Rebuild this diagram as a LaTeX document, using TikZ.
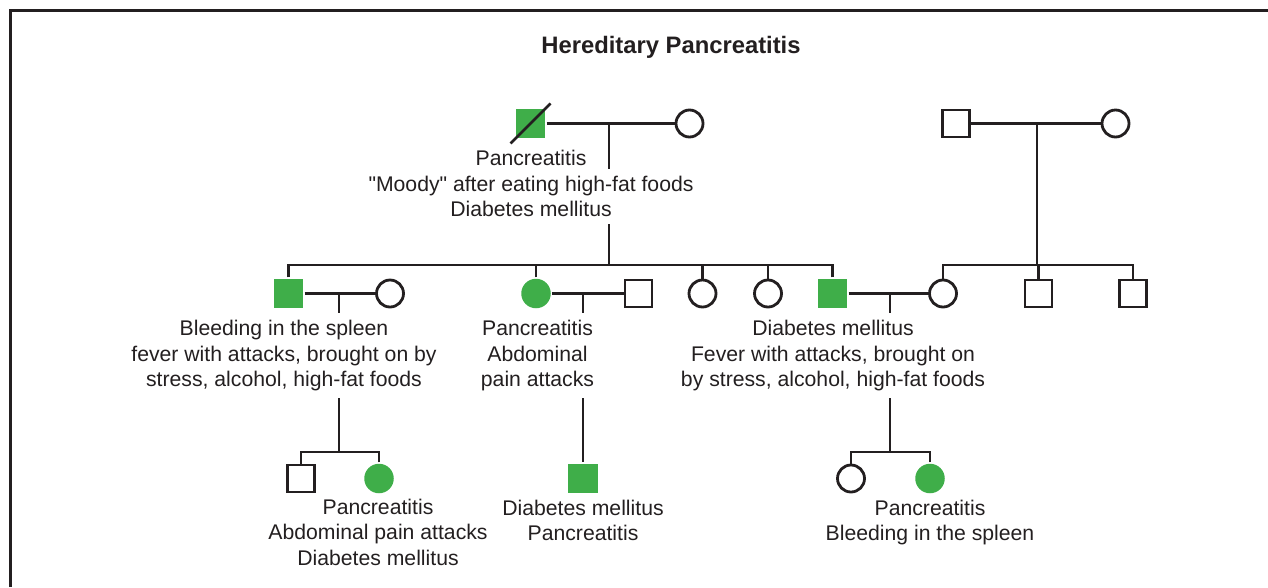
\documentclass[tikz,border=0pt]{standalone}
\usepackage{fontspec}
\setmainfont{Liberation Sans}
\newfontfamily\lsans{Liberation Sans}
\usetikzlibrary{backgrounds}
\definecolor{pgreen}{RGB}{63,174,73}
\definecolor{pline}{RGB}{35,31,32}
\begin{document}
\begin{tikzpicture}[x=1pt,y=-1pt,line width=2.8pt,
  male/.style={rectangle,draw=pline,line width=2.8pt,minimum size=27pt,inner sep=0pt,fill=white},
  female/.style={circle,draw=pline,line width=2.8pt,minimum size=27pt,inner sep=0pt,fill=white},
  amale/.style={rectangle,fill=pgreen,minimum size=29.5pt,inner sep=0pt},
  afemale/.style={circle,fill=pgreen,minimum size=29.5pt,inner sep=0pt},
  lbl/.style={font=\lsans\fontsize{21.2}{25.5}\selectfont,align=center,anchor=base,inner sep=0pt,text=pline},
  lblw/.style={lbl,fill=white,inner xsep=2pt,inner ysep=7pt},
  link/.style={draw=pline,line width=2.8pt}]
\useasboundingbox (0,0) rectangle (1268,587);
\draw[pline,line width=3pt] (10.5,587) -- (10.5,10.5) -- (1268,10.5);

\node[font=\lsans\bfseries\fontsize{23.8}{28}\selectfont,anchor=base,text=pline] (title) at (671,53) {Hereditary Pancreatitis};

% coordinates
\coordinate (m1) at (609,123.5);
\coordinate (s1) at (609,265);
\coordinate (m2) at (1037,123.5);
\coordinate (s2) at (1037,265);
\coordinate (mA) at (339,293.5);
\coordinate (sA) at (339,452);
\coordinate (mB) at (583,293.5);
\coordinate (mE) at (890,293.5);
\coordinate (sE) at (890,452);

% generation I
\node[amale] (gf) at (530.5,123.5) {};
\node[female] (gm) at (689.5,123.5) {};
\node[male] (gf2) at (956,123.5) {};
\node[female] (gm2) at (1115.5,123.5) {};

% generation II
\node[amale] (A) at (288.5,293.5) {};
\node[female] (Asp) at (390,293.5) {};
\node[afemale] (B) at (536,293.5) {};
\node[male] (Bsp) at (638.5,293.5) {};
\node[female] (C) at (702.5,293.5) {};
\node[female] (D) at (768,293.5) {};
\node[amale] (E) at (832.5,293.5) {};
\node[female] (F) at (943,293.5) {};
\node[male] (G) at (1038.5,293.5) {};
\node[male] (H) at (1133,293.5) {};

% generation III
\node[male] (I) at (301,478.5) {};
\node[afemale] (J) at (379,478.5) {};
\node[amale] (K) at (583,478.5) {};
\node[female] (L) at (851,478.5) {};
\node[afemale] (M) at (930,478.5) {};

% connectors
\begin{scope}[on background layer]
\draw[link] (gf) -- (gm);
\draw[link] (gf2) -- (gm2);
\draw[link] (m1) -- (s1);
\draw[link] (m2) -- (s2);
\draw[link] (A.north) |- (s1);
\draw[link] (E.north) |- (s1);
\draw[link] (B.north) -- (B.north |- s1);
\draw[link] (C.north) -- (C.north |- s1);
\draw[link] (D.north) -- (D.north |- s1);
\draw[link] (F.north) |- (s2);
\draw[link] (H.north) |- (s2);
\draw[link] (G.north) -- (G.north |- s2);
\draw[link] (A) -- (Asp);
\draw[link] (B) -- (Bsp);
\draw[link] (E) -- (F);
\draw[link] (mA) -- (sA);
\draw[link] (I.north) |- (sA);
\draw[link] (J.north) |- (sA);
\draw[link] (mB) -- (K);
\draw[link] (mE) -- (sE);
\draw[link] (L.north) |- (sE);
\draw[link] (M.north) |- (sE);
\end{scope}

% deceased mark
\draw[link] ([shift={(-20,20)}]gf.center) -- ([shift={(20,-20)}]gf.center);

% labels (base anchor = baseline of last line)
\node[lbl] (tgf1) at (531,165.5) {Pancreatitis};
\node[lblw] (tgf2) at (531,216.5) {"Moody" after eating high-fat foods\\Diabetes mellitus};
\node[lblw] (tA) at (284,386.5) {Bleeding in the spleen\\fever with attacks, brought on by\\stress, alcohol, high-fat foods};
\node[lblw] (tB) at (537.5,386.5) {Pancreatitis\\Abdominal\\pain attacks};
\node[lblw] (tE) at (833,386.5) {Diabetes mellitus\\Fever with attacks, brought on\\by stress, alcohol, high-fat foods};
\node[lbl] (tJ) at (378,565) {Pancreatitis\\Abdominal pain attacks\\Diabetes mellitus};
\node[lbl] (tK) at (583,540.5) {Diabetes mellitus\\Pancreatitis};
\node[lbl] (tM) at (930,540.5) {Pancreatitis\\Bleeding in the spleen};
\end{tikzpicture}
\end{document}
